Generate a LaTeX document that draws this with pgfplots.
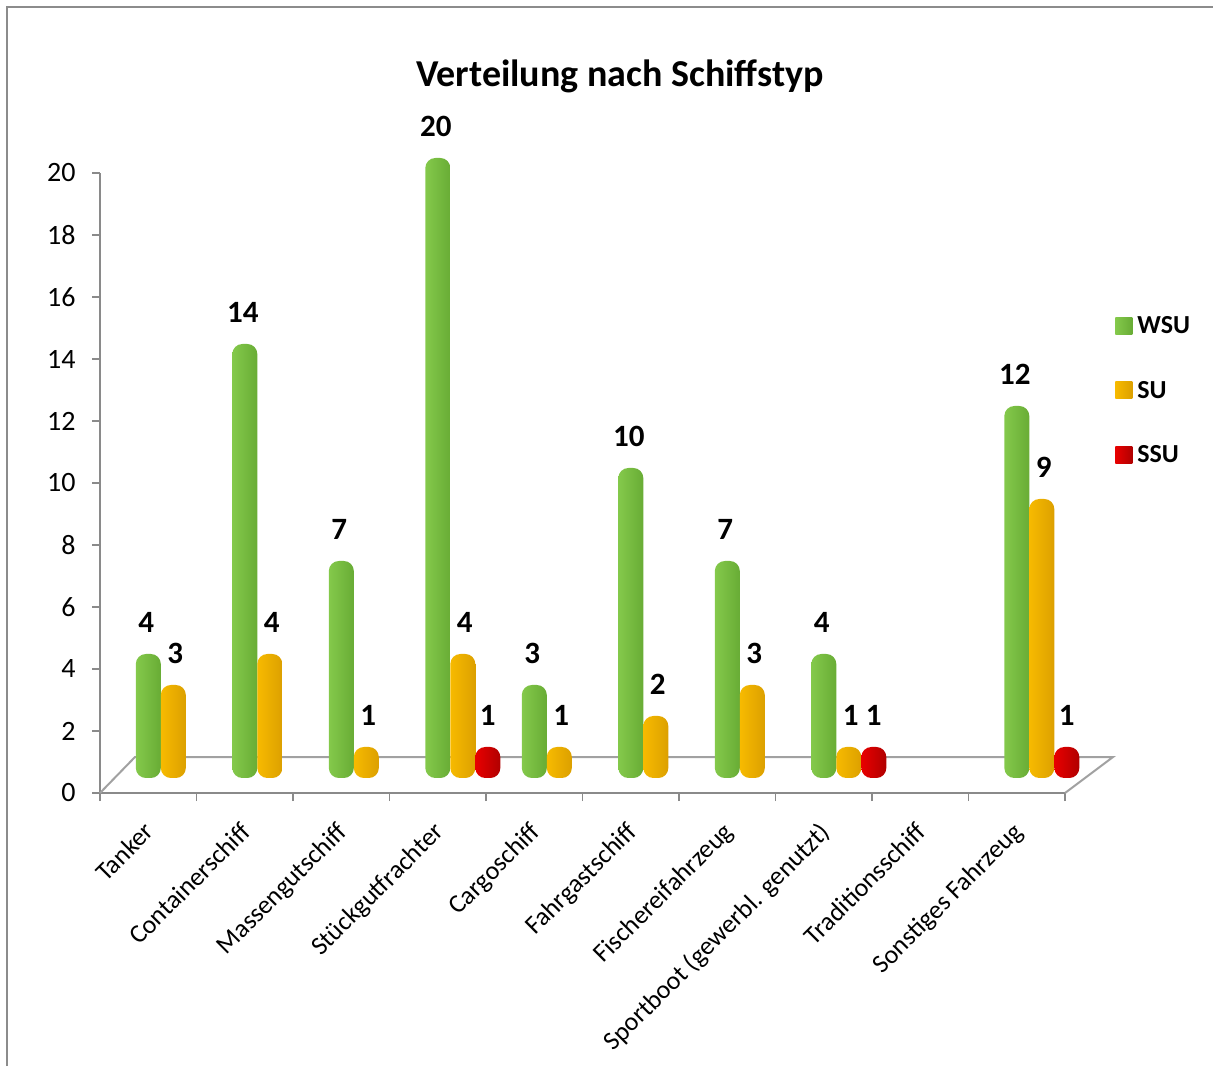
\documentclass[border=0pt]{standalone}
\usepackage{fontspec}
\setmainfont{Carlito}
\usepackage{pgfplots}
\pgfplotsset{compat=1.18}

% cylinder shading colours (edge, highlight, shadow)
\definecolor{wsuL}{HTML}{84C94B}
\definecolor{wsuM}{HTML}{B6E881}
\definecolor{wsuR}{HTML}{68AC35}
\definecolor{suL}{HTML}{F7BA00}
\definecolor{suM}{HTML}{FFE34F}
\definecolor{suR}{HTML}{DCA000}
\definecolor{ssuL}{HTML}{E80000}
\definecolor{ssuM}{HTML}{FF4040}
\definecolor{ssuR}{HTML}{B00000}
\definecolor{frame}{HTML}{8C8C8C}
\definecolor{axisgray}{HTML}{8A8A8A}

\pgfplotsset{
  cyl/.style={ybar, bar width=25pt, draw=none, rounded corners=10pt, forget plot},
  wsu/.style={cyl, bar shift=-25pt, left color=wsuL, middle color=wsuM, right color=wsuR,
    every node near coord/.append style={xshift=-27pt}},
  su/.style={cyl, bar shift=0pt, left color=suL, middle color=suM, right color=suR,
    every node near coord/.append style={xshift=2pt}},
  ssu/.style={cyl, bar shift=25pt, left color=ssuL, middle color=ssuM, right color=ssuR,
    every node near coord/.append style={xshift=25pt}},
  legsq/.style={legend image code/.code={\path[##1] (0pt,-8.5pt) rectangle (17pt,8.5pt);}},
}

\begin{document}
\begin{tikzpicture}
\path[use as bounding box] (0pt,0pt) rectangle (1213pt,1066pt);
\draw[frame, line width=2pt] (7pt,0pt) -- (7pt,1059pt) -- (1213pt,1059pt);
\node[font=\bfseries\fontsize{38}{44}\selectfont] at (620pt,990pt) {Verteilung nach Schiffstyp};

% value axis and floor
\begin{axis}[
  at={(100pt,273pt)}, anchor=south west, scale only axis,
  width=965pt, height=620pt,
  xmin=0, xmax=10, ymin=0, ymax=20, clip=false,
  axis x line=bottom, axis y line=left,
  axis line style={-, draw=axisgray, line width=1.6pt},
  xtick={0,...,10}, xticklabels={},
  ytick={0,2,...,20},
  tick align=outside, major tick length=8pt,
  tick style={draw=axisgray, line width=1.6pt},
  /pgf/number format/assume math mode=true,
  yticklabel style={font=\fontsize{28}{32}\selectfont, xshift=-13pt},
  extra x ticks={0.5,1.5,...,9.5},
  extra x tick labels={Tanker,Containerschiff,Massengutschiff,Stückgutfrachter,Cargoschiff,Fahrgastschiff,Fischereifahrzeug,{Sportboot (gewerbl. genutzt)},Traditionsschiff,Sonstiges Fahrzeug},
  extra x tick style={major tick length=0pt, tick style={draw=none},
    xticklabel style={rotate=45, anchor=north east, font=\fontsize{26}{30}\selectfont, xshift=-20pt, yshift=-12pt}},
]
\draw[axisgray!80, line width=2pt] (axis cs:0,0) -- ++(35pt,36pt) -- ([shift={(48pt,36pt)}]axis cs:10,0) -- (axis cs:10,0);
\end{axis}

% cylinders
\begin{axis}[
  at={(100pt,273pt)}, anchor=south west, scale only axis,
  width=965pt, height=620pt,
  xmin=-0.26, xmax=9.74, ymin=-0.484, ymax=19.516,
  hide axis, clip=false,
  /pgf/number format/assume math mode=true,
  nodes near coords,
  every node near coord/.append style={font=\bfseries\fontsize{31}{35}\selectfont, inner sep=0pt, anchor=south, yshift=21pt, text=black},
  legend style={at={(1.052,0.772)}, anchor=north west, draw=none, fill=none,
    font=\bfseries\fontsize{26}{30}\selectfont, row sep=42pt, inner sep=0pt,
    nodes={inner xsep=5pt}},
  legend cell align=left,
]
% WSU
\addplot[wsu] coordinates {(0.5,4)};
\addplot[wsu] coordinates {(1.5,14)};
\addplot[wsu] coordinates {(2.5,7)};
\addplot[wsu] coordinates {(3.5,20)};
\addplot[wsu] coordinates {(4.5,3)};
\addplot[wsu] coordinates {(5.5,10)};
\addplot[wsu] coordinates {(6.5,7)};
\addplot[wsu] coordinates {(7.5,4)};
\addplot[wsu] coordinates {(9.5,12)};
% SU
\addplot[su] coordinates {(0.5,3)};
\addplot[su] coordinates {(1.5,4)};
\addplot[su] coordinates {(2.5,1)};
\addplot[su] coordinates {(3.5,4)};
\addplot[su] coordinates {(4.5,1)};
\addplot[su] coordinates {(5.5,2)};
\addplot[su] coordinates {(6.5,3)};
\addplot[su] coordinates {(7.5,1)};
\addplot[su] coordinates {(9.5,9)};
% SSU
\addplot[ssu] coordinates {(3.5,1)};
\addplot[ssu] coordinates {(7.5,1)};
\addplot[ssu] coordinates {(9.5,1)};

\addlegendimage{legsq, draw=none, left color=wsuL, middle color=wsuM, right color=wsuR}
\addlegendentry{WSU}
\addlegendimage{legsq, draw=none, left color=suL, middle color=suM, right color=suR}
\addlegendentry{SU}
\addlegendimage{legsq, draw=none, left color=ssuL, middle color=ssuM, right color=ssuR}
\addlegendentry{SSU}
\end{axis}
\end{tikzpicture}
\end{document}
